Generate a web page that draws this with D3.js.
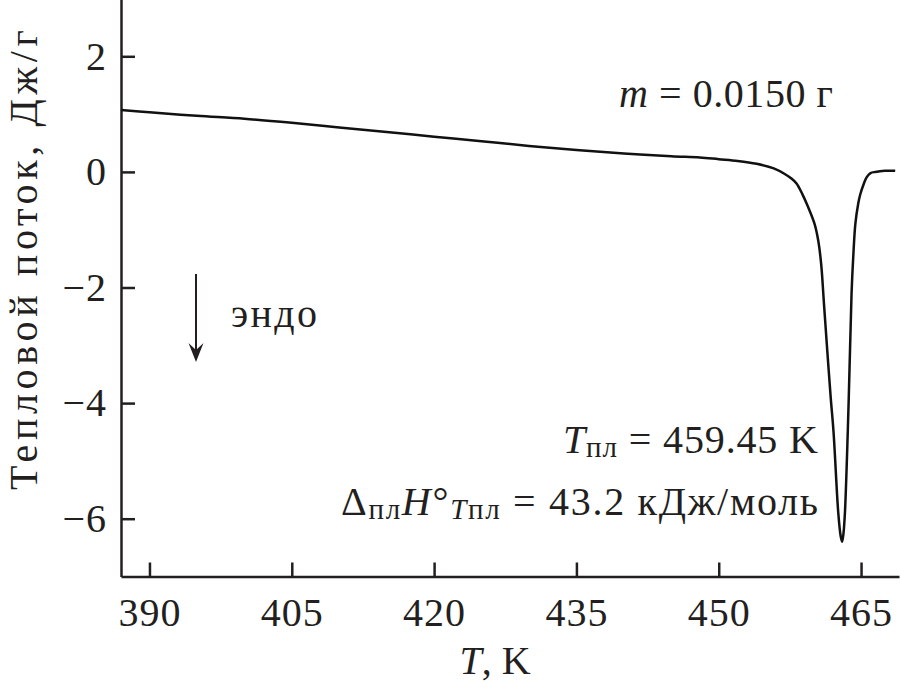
<!DOCTYPE html>
<html>
<head>
<meta charset="utf-8">
<script src="https://cdn.jsdelivr.net/npm/d3@7"></script>
<style>
  body { margin: 0; background: #fff; }
</style>
</head>
<body>
<div id="chart"></div>
<script>
// DSC curve
var temps = [387.0, 390, 395, 400, 405, 410, 415, 420, 425, 430, 435, 440, 445, 448, 450, 452, 454,
    455.8, 457, 457.7, 458.2, 458.8, 459.4, 460.1, 460.5, 460.8, 461.1, 461.4, 461.8, 462.1, 462.6, 462.85, 463.0,
    463.15, 463.3, 463.6, 463.85, 464.0, 464.2, 464.4, 464.7, 464.9, 465.3, 465.6, 466.0, 466.5, 467.5, 468.6];
var heatFlow = [1.07, 1.03, 0.97, 0.92, 0.85, 0.77, 0.69, 0.61, 0.53, 0.45, 0.38, 0.32, 0.27, 0.25, 0.22, 0.19, 0.14,
    0.06, -0.04, -0.12, -0.2, -0.38, -0.6, -0.9, -1.2, -1.6, -2.3, -3.0, -3.9, -4.5, -5.9, -6.3, -6.40,
    -6.25, -5.9, -4.5, -3.0, -2.1, -1.4, -0.9, -0.55, -0.4, -0.2, -0.09, -0.02, 0.0, 0.02, 0.02];
var xTicks = [390, 405, 420, 435, 450, 465];
var yTicks = [-6, -4, -2, 0, 2];

var svgWidth = 900;
var svgHeight = 691;
var ink = "#231f20";
var fontSize = "40px";
var subSize = "29px";

var svg = d3.select("#chart")
    .append("svg")
    .attr("width", svgWidth)
    .attr("height", svgHeight);

var data = temps.map((t, i) => ({ t: t, q: heatFlow[i] }));

var x = d3.scaleLinear().domain([387, 469]).range([121, 899]);
var y = d3.scaleLinear().domain([-7, 3]).range([576.5, -1.5]);

// axes, ticks point inwards
var xAxis = svg.append("g")
    .attr("transform", `translate(0, ${y(-7)})`)
    .call(d3.axisBottom(x).tickValues(xTicks).tickSizeInner(-14).tickSizeOuter(0).tickPadding(21));

var yAxis = svg.append("g")
    .attr("transform", `translate(${x(387)}, 0)`)
    .call(d3.axisLeft(y).tickValues(yTicks).tickSizeInner(-14).tickSizeOuter(0).tickPadding(14));

[xAxis, yAxis].forEach(function (a) {
    a.attr("font-family", null).attr("font-size", null);
    a.selectAll("path, line").attr("stroke", ink).attr("stroke-width", 2.5);
    a.selectAll("text").style("letter-spacing", "1px");
});

// curve
var line = d3.line()
    .x(d => x(d.t))
    .y(d => y(d.q))
    .curve(d3.curveCatmullRom.alpha(0.5));

svg.append("path")
    .datum(data)
    .attr("fill", "none")
    .attr("stroke", "#111")
    .attr("stroke-width", 2.5)
    .attr("d", line);

// axis titles
var xTitle = svg.append("text")
    .attr("x", 495)
    .attr("y", 674)
    .attr("text-anchor", "middle");
xTitle.append("tspan").attr("font-style", "italic").text("T");
xTitle.append("tspan").text(", K");

svg.append("text")
    .attr("transform", "translate(37, 490) rotate(-90)")
    .attr("textLength", 460)
    .attr("lengthAdjust", "spacing")
    .text("Тепловой поток, Дж/г");

// mass label
var mLabel = svg.append("text")
    .attr("x", 619)
    .attr("y", 107)
    .attr("textLength", 214)
    .attr("lengthAdjust", "spacing");
mLabel.append("tspan").attr("font-style", "italic").text("m");
mLabel.append("tspan").text(" = 0.0150 г");

// endo arrow
svg.append("line")
    .attr("x1", 196).attr("y1", 274)
    .attr("x2", 196).attr("y2", 350)
    .attr("stroke", ink)
    .attr("stroke-width", 2);
svg.append("path")
    .attr("d", "M188.5,343 L196,350 L203.5,343 L196,362 Z")
    .attr("fill", ink);

svg.append("text")
    .attr("x", 231)
    .attr("y", 327)
    .attr("textLength", 86)
    .attr("lengthAdjust", "spacing")
    .text("эндо");

// melting annotations
var tLabel = svg.append("text")
    .attr("x", 563)
    .attr("y", 453)
    .attr("textLength", 255)
    .attr("lengthAdjust", "spacing");
tLabel.append("tspan").attr("font-style", "italic").text("T");
tLabel.append("tspan").style("font-size", subSize).attr("dy", 4).text("пл");
tLabel.append("tspan").attr("dy", -4).text(" = 459.45 K");

var hLabel = svg.append("text")
    .attr("x", 341)
    .attr("y", 515)
    .attr("textLength", 477)
    .attr("lengthAdjust", "spacing");
hLabel.append("tspan").text("Δ");
hLabel.append("tspan").style("font-size", subSize).attr("dy", 4).text("пл");
hLabel.append("tspan").attr("font-style", "italic").attr("dy", -4).text("H");
hLabel.append("tspan").text("°");
hLabel.append("tspan").style("font-size", subSize).attr("font-style", "italic").attr("dy", 4).text("T");
hLabel.append("tspan").style("font-size", subSize).text("пл");
hLabel.append("tspan").attr("dy", -4).text(" = 43.2 кДж/моль");

// common text style
svg.selectAll("text")
    .style("font-family", "'Liberation Serif'")
    .style("font-size", fontSize)
    .attr("fill", ink);
</script>
</body>
</html>
